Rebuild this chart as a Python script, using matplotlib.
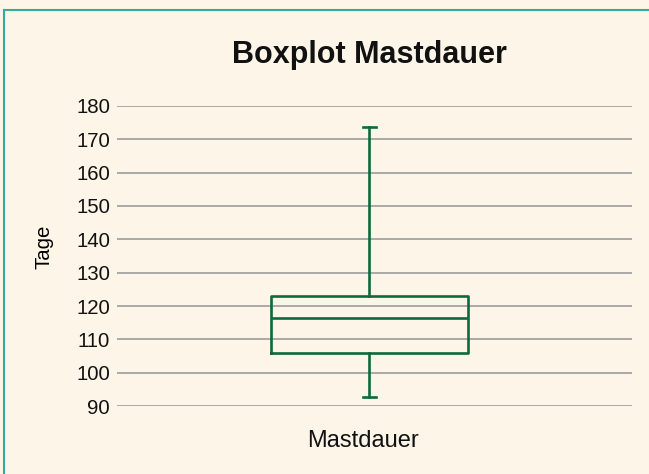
import matplotlib
matplotlib.use("Agg")
from matplotlib import pyplot as plt
from matplotlib.lines import Line2D

# Summary values (days)
CATEGORIES = ['Mastdauer']
WHISKER_LOW = [92.6]
QUARTILE_1 = [105.9]
MEDIAN = [116.4]
QUARTILE_3 = [123.0]
WHISKER_HIGH = [173.6]
YTICKS = list(range(90, 181, 10))

BG = '#fdf5e8'
GREEN = '#0d6a3a'
GRID = '#a4a4a4'
BORDER = '#3aa99a'

plt.rcParams['font.family'] = ['Liberation Sans', 'DejaVu Sans']

fig = plt.figure(figsize=(6.49, 4.74), dpi=100, facecolor=BG)
ax = fig.add_axes([117 / 649, 68 / 474, 515 / 649, 300 / 474])
ax.set_facecolor(BG)

stats = []
for i, name in enumerate(CATEGORIES):
    stats.append({'label': name, 'whislo': WHISKER_LOW[i], 'q1': QUARTILE_1[i],
                  'med': MEDIAN[i], 'q3': QUARTILE_3[i], 'whishi': WHISKER_HIGH[i],
                  'fliers': []})

line_style = dict(color=GREEN, linewidth=1.9)
ax.bxp(stats, positions=[0.99], widths=0.3825, capwidths=0.025,
       showfliers=False, boxprops=line_style, medianprops=line_style,
       whiskerprops=line_style, capprops=line_style, zorder=3)

ax.set_xlim(0.5, 1.5)
ax.set_ylim(90, 180)
ax.set_yticks(YTICKS)
# category label sits a little left of the box centre in the original
ax.set_xticks([0.977])
ax.set_xticklabels(CATEGORIES, fontsize=17)
ax.yaxis.grid(True, color=GRID, linewidth=1.3)
ax.set_axisbelow(True)
for side in ['left', 'right', 'top', 'bottom']:
    ax.spines[side].set_visible(False)
ax.tick_params(axis='both', length=0, labelcolor='#111111')
ax.tick_params(axis='y', pad=5, labelsize=14.7)
ax.tick_params(axis='x', pad=17)
ax.set_ylabel('Tage', fontsize=14.7)
ax.yaxis.set_label_coords(-0.124, 0.532)

fig.text(369 / 649, 1 - 63 / 474, 'Boxplot Mastdauer', ha='center',
         va='baseline', fontsize=22, fontweight='bold', color='#111111')

# border on top and left edges
fig.add_artist(Line2D([4 / 649, 4 / 649], [0, 1 - 10 / 474],
                      transform=fig.transFigure, color=BORDER, linewidth=1.5))
fig.add_artist(Line2D([4 / 649, 1], [1 - 10 / 474, 1 - 10 / 474],
                      transform=fig.transFigure, color=BORDER, linewidth=1.5))

fig.savefig('out.png', dpi=100, facecolor=BG)
